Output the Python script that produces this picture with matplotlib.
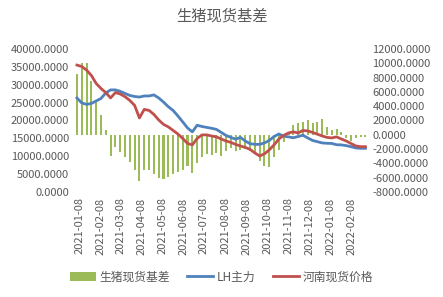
import numpy as np
import pandas as pd
import matplotlib
matplotlib.use("Agg")
import matplotlib.pyplot as plt
import matplotlib.dates as mdates
from matplotlib.ticker import MultipleLocator, FormatStrFormatter

plt.rcParams['font.family'] = ['Noto Sans CJK SC', 'DejaVu Sans']

# weekly samples, 2021-01-04 .. 2022-02-28
dates = pd.date_range('2021-01-04', periods=61, freq='7D')

# 河南现货价格 (left axis)
spot = [35500, 35100, 34100, 32600, 30350, 28950, 27800, 26300, 27800, 27400,
        26650, 25600, 24200, 20700, 23100, 22800, 21700, 20150, 18900, 18200,
        17200, 16200, 14950, 13550, 13150, 14950, 15950, 15950, 15650, 15400,
        14800, 14250, 13850, 13300, 12850, 12450, 11900, 10900, 10050, 10650,
        11750, 13150, 14800, 15800, 16500, 16800, 16500, 17200, 17050, 16650,
        16150, 15650, 15250, 15100, 15400, 14800, 14250, 13550, 12850, 12650,
        12650]

# LH主力 (left axis)
futures = [26300, 24900, 24500, 24750, 25450, 26150, 27700, 28550, 28550, 28150,
           27550, 27000, 26700, 26550, 26850, 26850, 27150, 26300, 25150, 23850,
           22800, 21250, 19600, 17900, 16800, 18650, 18300, 18050, 17800, 17500,
           16650, 15800, 15250, 14750, 15250, 14250, 13500, 13300, 13300, 13700,
           14400, 15500, 16200, 15600, 15400, 15150, 15500, 15850, 15100, 14400,
           14050, 13700, 13600, 13550, 13200, 13150, 12950, 12650, 12300, 12200,
           12200]

# 生猪现货基差 (right axis)
basis = [8500, 10100, 10050, 7550, 4550, 2700, 600, -3000, -1750, -2400,
         -3150, -3800, -4950, -6450, -5000, -4950, -5500, -6100, -6250, -5900,
         -5500, -5200, -5000, -4400, -5350, -4000, -3050, -2700, -2850, -2600,
         -3000, -2300, -1900, -2250, -2150, -1950, -2300, -2700, -3700, -4400,
         -4550, -3150, -2150, -1000, 300, 1300, 1600, 1850, 2000, 1600,
         1750, 2200, 1150, 700, 800, 350, -500, -850, -450, -300,
         -300]

tick_dates = pd.date_range('2021-01-01', '2022-02-01', freq='MS') + pd.Timedelta(days=7)

gray = '#595959'
fig = plt.figure(figsize=(4.43, 2.97), dpi=100)
ax = fig.add_axes([0.169, 0.354, 0.659, 0.481])
ax2 = ax.twinx()

ax2.bar(dates, basis, width=3.0, color='#9BBB59', label='生猪现货基差')
ax.plot(dates, futures, color='#4F81BD', lw=2.0, label='LH主力')
ax.plot(dates, spot, color='#C0504D', lw=2.0, label='河南现货价格')

ax.set_zorder(ax2.get_zorder() + 1)
ax.patch.set_visible(False)

ax.set_ylim(0, 40000)
ax.yaxis.set_major_locator(MultipleLocator(5000))
ax.yaxis.set_major_formatter(FormatStrFormatter('%.4f'))
ax2.set_ylim(-8000, 12000)
ax2.yaxis.set_major_locator(MultipleLocator(2000))
ax2.yaxis.set_major_formatter(FormatStrFormatter('%.4f'))

ax.set_xlim(pd.Timestamp('2021-01-01'), pd.Timestamp('2022-03-02'))
ax.set_xticks(tick_dates)
ax.xaxis.set_major_formatter(mdates.DateFormatter('%Y-%m-%d'))
ax.tick_params(axis='x', rotation=90)

for a in (ax, ax2):
    for s in a.spines.values():
        s.set_visible(False)
    a.tick_params(length=0, labelsize=8, colors=gray, pad=4)

fig.suptitle('生猪现货基差', x=0.5, y=0.975, fontsize=11, color=gray)

h1, l1 = ax2.get_legend_handles_labels()
h2, l2 = ax.get_legend_handles_labels()
fig.legend(h1 + h2, l1 + l2, loc='center', bbox_to_anchor=(0.5, 0.067), ncol=3,
           frameon=False, fontsize=8.5, labelcolor=gray, handlelength=2.2,
           handletextpad=0.3, columnspacing=1.5)

fig.savefig('out.png', dpi=100)
